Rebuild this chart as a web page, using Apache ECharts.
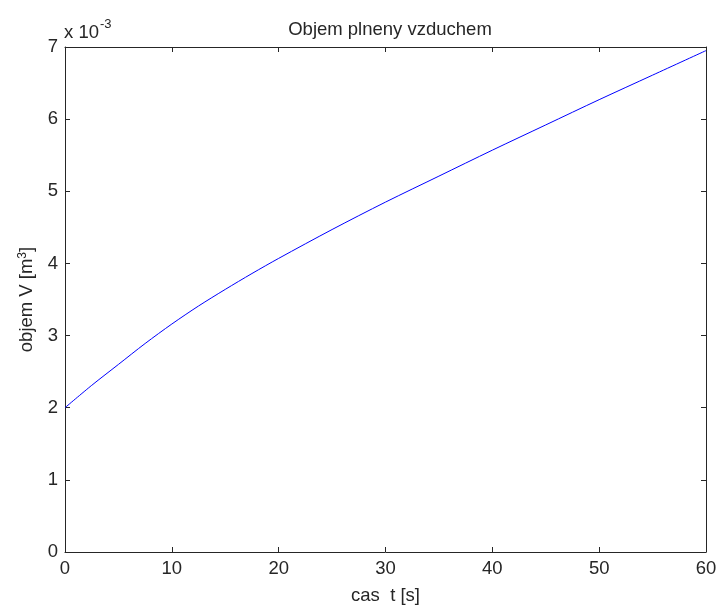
<!DOCTYPE html>
<html>
<head>
<meta charset="utf-8">
<script src="https://cdn.jsdelivr.net/npm/echarts@6/dist/echarts.min.js"></script>
<style>html,body{margin:0;padding:0;background:#fff}#c{width:720px;height:610px}</style>
</head>
<body>
<div id="c"></div>
<script>
// time [s]
var timeS = [0, 2.5, 5, 7.5, 10, 12.5, 15, 17.5, 20, 25, 30, 35, 40, 45, 50, 55, 60];
// volume V, in units of 1e-3 m^3
var volumeE3 = [2.00, 2.31, 2.60, 2.89, 3.16, 3.41, 3.64, 3.86, 4.07, 4.47, 4.85, 5.21, 5.57, 5.92, 6.27, 6.61, 6.95];
var xTicks = [0, 10, 20, 30, 40, 50, 60];
var yTicks = [0, 1, 2, 3, 4, 5, 6, 7];

var font = 'Liberation Sans, Arial, sans-serif';
var txt = '#262626';
var pts = timeS.map(function (t, i) { return [t, volumeE3[i]]; });

var axisLine = { show: true, onZero: false, lineStyle: { color: '#262626', width: 1 } };
var tick = { show: true, inside: true, length: 5, lineStyle: { color: '#262626' } };

var chart = echarts.init(document.getElementById('c'), null, { renderer: 'canvas' });
chart.setOption({
  animation: false,
  backgroundColor: '#fff',
  title: {
    text: 'Objem plneny vzduchem',
    left: 385, top: 15, textAlign: 'center',
    textStyle: { fontFamily: font, fontSize: 18.5, fontWeight: 'normal', color: txt }
  },
  grid: { left: 65, right: 14, top: 47, bottom: 58, containLabel: false, outerBoundsMode: 'none' },
  xAxis: [{
    type: 'value', min: xTicks[0], max: xTicks[xTicks.length - 1], interval: 10,
    name: 'cas  t [s]', nameLocation: 'middle', nameGap: 34,
    nameTextStyle: { fontFamily: font, fontSize: 18.5, color: txt },
    axisLine: axisLine, axisTick: tick, splitLine: { show: false },
    axisLabel: { fontFamily: font, fontSize: 18.5, color: txt, margin: 7 }
  }, {
    type: 'value', position: 'top', min: xTicks[0], max: xTicks[xTicks.length - 1], interval: 10,
    axisLine: axisLine, axisTick: tick, splitLine: { show: false }, axisLabel: { show: false }
  }],
  yAxis: [{
    type: 'value', min: yTicks[0], max: yTicks[yTicks.length - 1], interval: 1,
    name: '{a|objem V [m}{s|3}{a|]}', nameLocation: 'middle', nameGap: 29, nameRotate: 90,
    nameTextStyle: {
      fontFamily: font, fontSize: 18.5, color: txt,
      rich: {
        a: { fontFamily: font, fontSize: 18.5, color: txt },
        s: { fontFamily: font, fontSize: 12, color: txt, verticalAlign: 'top', padding: [0, 0, 6, 0] }
      }
    },
    axisLine: axisLine, axisTick: tick, splitLine: { show: false },
    axisLabel: { fontFamily: font, fontSize: 18.5, color: txt, margin: 7 }
  }, {
    type: 'value', position: 'right', min: yTicks[0], max: yTicks[yTicks.length - 1], interval: 1,
    axisLine: axisLine, axisTick: tick, splitLine: { show: false }, axisLabel: { show: false }
  }],
  graphic: [{
    type: 'text', left: 64, top: 18,
    style: {
      text: '{a|x 10}{s|-3}',
      rich: {
        a: { fontFamily: font, fontSize: 18.5, fill: txt, padding: [10, 0, 0, 0] },
        s: { fontFamily: font, fontSize: 13, fill: txt, padding: [0, 0, 6, 1] }
      }
    }
  }],
  series: [{
    type: 'line', data: pts, smooth: 0.3, showSymbol: false,
    lineStyle: { color: '#0000ff', width: 1 }, itemStyle: { color: '#0000ff' }
  }]
});
</script>
</body>
</html>
